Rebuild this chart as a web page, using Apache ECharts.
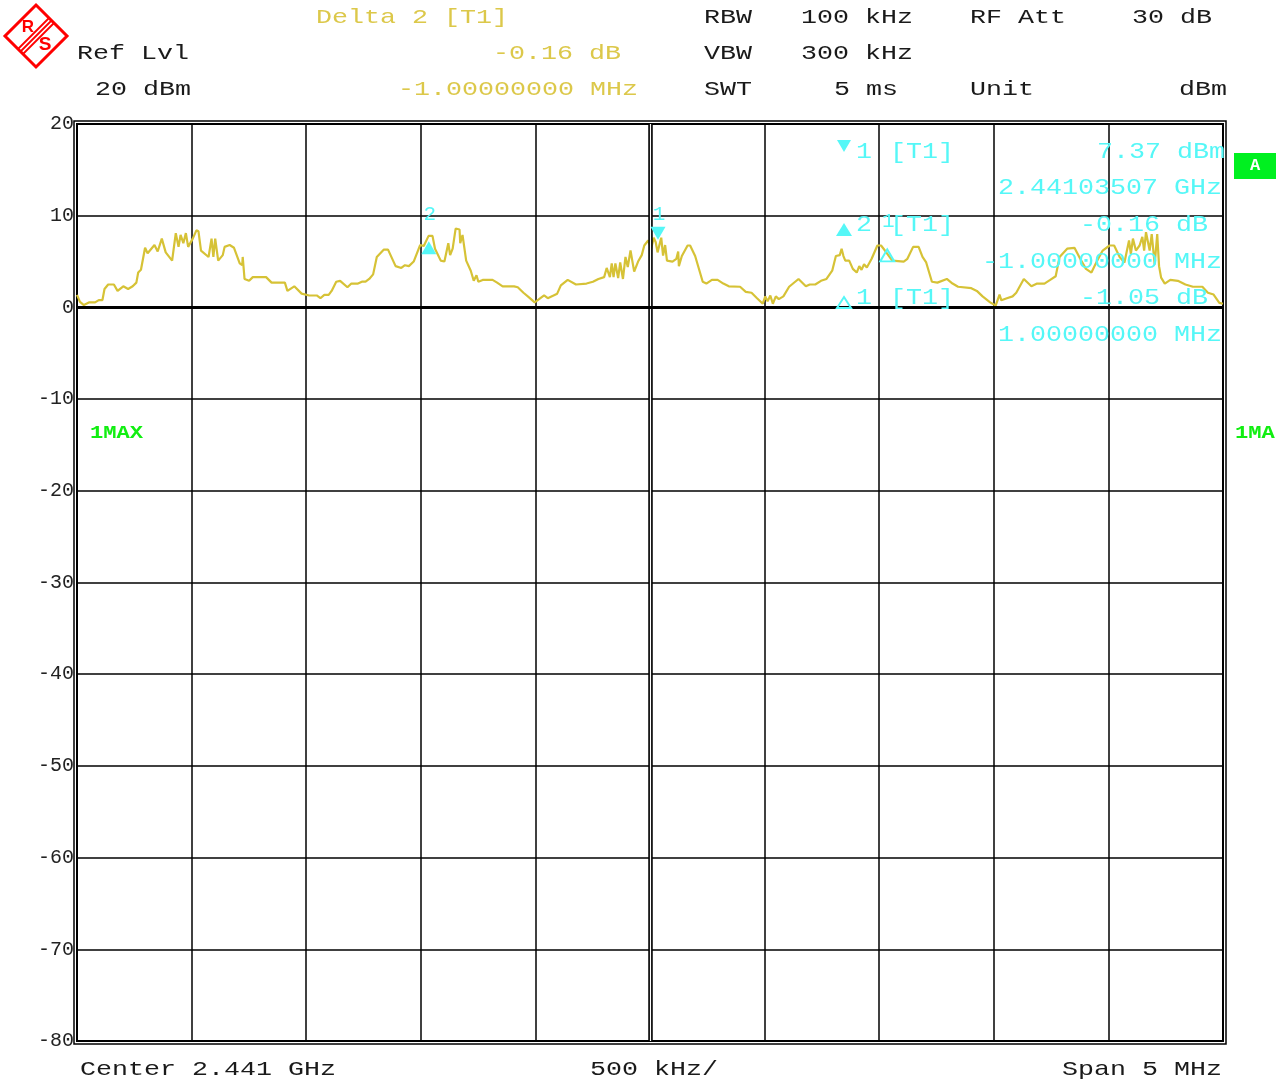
<!DOCTYPE html>
<html><head><meta charset="utf-8">
<script src="https://cdn.jsdelivr.net/npm/echarts@6/dist/echarts.min.js"></script>
<style>html,body{margin:0;padding:0;background:#fff}#c{width:1282px;height:1080px}</style>
</head><body><div id="c"></div><script>
// Frequency offset from center 2.441 GHz, in MHz
const freqMHz = [
 -2.5, -2.487, -2.47, -2.446, -2.421, -2.405, -2.389, -2.38, -2.364, -2.339,
 -2.323, -2.298, -2.277, -2.257, -2.241, -2.233, -2.221, -2.203, -2.192, -2.162,
 -2.148, -2.13, -2.113, -2.085, -2.069, -2.057, -2.048, -2.036, -2.025, -2.015,
 -1.995, -1.979, -1.97, -1.959, -1.926, -1.913, -1.905, -1.897, -1.884, -1.864,
 -1.856, -1.834, -1.815, -1.79, -1.779, -1.777, -1.769, -1.749, -1.733, -1.675,
 -1.651, -1.593, -1.582, -1.552, -1.52, -1.487, -1.454, -1.438, -1.421, -1.402,
 -1.389, -1.369, -1.352, -1.32, -1.303, -1.274, -1.257, -1.241, -1.225, -1.208,
 -1.192, -1.162, -1.143, -1.11, -1.085, -1.069, -1.052, -1.031, -1.003, -0.987,
 -0.966, -0.949, -0.938, -0.913, -0.897, -0.88, -0.872, -0.861, -0.848, -0.831,
 -0.828, -0.818, -0.802, -0.782, -0.769, -0.757, -0.749, -0.73, -0.687, -0.667,
 -0.643, -0.593, -0.577, -0.552, -0.528, -0.503, -0.487, -0.462, -0.446, -0.421,
 -0.405, -0.389, -0.359, -0.323, -0.277, -0.249, -0.225, -0.2, -0.189, -0.175,
 -0.167, -0.159, -0.151, -0.139, -0.13, -0.118, -0.107, -0.097, -0.085, -0.069,
 -0.052, -0.036, -0.025, -0.008, 0.005, 0.016, 0.025, 0.033, 0.041, 0.049,
 0.057, 0.066, 0.074, 0.098, 0.115, 0.123, 0.126, 0.139, 0.164, 0.175,
 0.197, 0.23, 0.246, 0.27, 0.295, 0.32, 0.344, 0.393, 0.418, 0.443,
 0.467, 0.492, 0.503, 0.513, 0.525, 0.536, 0.549, 0.562, 0.582, 0.607,
 0.648, 0.68, 0.697, 0.721, 0.746, 0.77, 0.795, 0.811, 0.828, 0.836,
 0.844, 0.852, 0.869, 0.885, 0.902, 0.913, 0.923, 0.934, 0.946, 0.967,
 0.992, 1.008, 1.025, 1.057, 1.107, 1.123, 1.148, 1.172, 1.189, 1.205,
 1.23, 1.254, 1.295, 1.32, 1.344, 1.402, 1.426, 1.451, 1.484, 1.508,
 1.525, 1.533, 1.557, 1.582, 1.598, 1.631, 1.664, 1.689, 1.721, 1.746,
 1.77, 1.787, 1.82, 1.852, 1.877, 1.902, 1.926, 1.951, 1.975, 2.005,
 2.025, 2.049, 2.07, 2.09, 2.098, 2.107, 2.12, 2.136, 2.148, 2.156,
 2.164, 2.18, 2.189, 2.202, 2.213, 2.221, 2.23, 2.246, 2.27, 2.303,
 2.336, 2.369, 2.41, 2.434, 2.459, 2.484, 2.5
];
// Trace level, dBm (1MAX)
const levelDbm = [
 1.36, 0.6, 0.25, 0.55, 0.55, 0.8, 0.8, 2.0, 2.5, 2.5,
 1.8, 2.3, 2.0, 2.3, 2.7, 3.8, 4.1, 6.5, 5.9, 6.8,
 6.1, 7.5, 6.0, 5.1, 8.1, 6.6, 7.9, 7.0, 8.1, 6.6,
 7.5, 8.4, 8.3, 6.2, 5.5, 7.5, 5.5, 7.5, 5.1, 5.7,
 6.6, 6.8, 6.5, 4.8, 4.6, 5.5, 3.1, 2.9, 3.3, 3.3,
 2.7, 2.7, 1.8, 2.3, 1.5, 1.3, 1.3, 1.0, 1.36, 1.36,
 1.8, 2.8, 2.9, 2.2, 2.6, 2.6, 2.8, 2.8, 3.1, 3.6,
 5.5, 6.3, 6.3, 4.5, 4.3, 4.6, 4.5, 5.0, 6.8, 6.7,
 7.8, 7.8, 6.4, 5.1, 5.0, 7.0, 5.7, 6.4, 8.6, 8.5,
 7.0, 7.9, 5.1, 4.0, 2.9, 3.5, 2.8, 3.0, 3.0, 2.7,
 2.3, 2.3, 2.2, 1.6, 1.1, 0.55, 0.84, 1.3, 1.0, 1.3,
 1.5, 2.4, 3.0, 2.5, 2.6, 2.8, 3.1, 3.3, 4.3, 3.3,
 4.8, 3.3, 4.8, 3.2, 4.9, 3.1, 5.5, 4.4, 6.2, 3.9,
 5.0, 5.7, 6.75, 7.3, 6.4, 7.6, 7.1, 6.0, 5.8, 7.6,
 5.65, 6.8, 5.1, 5.0, 5.3, 6.1, 4.5, 5.6, 6.75, 6.75,
 5.6, 2.8, 2.6, 3.0, 3.0, 2.6, 2.3, 2.25, 1.7, 1.6,
 1.0, 0.4, 1.2, 0.66, 1.3, 0.4, 1.2, 0.9, 1.2, 2.25,
 3.1, 2.3, 2.5, 2.5, 2.9, 3.1, 4.0, 5.6, 5.7, 6.4,
 5.6, 5.1, 5.1, 4.2, 3.8, 4.5, 4.1, 4.7, 4.35, 5.3,
 6.75, 6.75, 6.2, 5.1, 5.0, 5.3, 6.6, 6.6, 5.5, 4.9,
 2.8, 2.7, 3.1, 2.6, 2.25, 2.1, 1.8, 1.2, 0.55, 0.2,
 1.4, 0.77, 1.0, 1.2, 1.6, 3.1, 2.3, 2.6, 2.6, 3.0,
 3.4, 5.5, 6.4, 6.5, 5.3, 4.2, 3.8, 5.1, 6.2, 6.75,
 6.75, 5.5, 4.9, 7.3, 5.8, 7.5, 6.2, 6.75, 7.7, 6.2,
 8.2, 6.2, 8.0, 4.7, 8.0, 4.5, 3.25, 2.6, 3.0, 2.9,
 2.5, 2.25, 2.25, 1.6, 1.4, 0.5, 0.4
];
// Markers: 1 (T1), delta 2, delta 1
const markerNames = ['1', '2', '1'];
const markerFreq = [0.035, -0.965, 1.035];
const markerLevel = [7.37, 7.21, 6.32];
const yTicks = [-80, -70, -60, -50, -40, -30, -20, -10, 0, 10, 20];

const CYAN = '#55f7f7', YEL = '#dcc84a', TRACE = '#d6c236', INK = '#1a1a1a', GREEN = '#11ee11', RED = '#ff0000';
const MONO = '"Liberation Mono","Courier New",monospace';

const traceData = freqMHz.map((f, i) => [f, levelDbm[i]]);

function T(x, y, text, fill, o) {
  o = o || {};
  const size = o.size || 21;
  const sx = o.sx || (16 / (size * 0.6));
  return {
    type: 'text', x: x, y: y, scaleX: sx, z: 50, silent: true,
    style: {
      text: text, fill: fill,
      font: (o.bold ? 'bold ' : '') + size + 'px ' + MONO,
      textAlign: o.align || 'left', align: o.align || 'left',
      textVerticalAlign: 'middle', verticalAlign: 'middle'
    }
  };
}

const GL = 77, GT = 124, GR = 1223, GB = 1041;

const graphics = [
  // R&S logo
  { type: 'polygon', shape: { points: [[36,5],[67,36],[36,67],[5,36]] }, style: { fill: 'none', stroke: RED, lineWidth: 3 }, z: 50 },
  { type: 'line', shape: { x1: 49, y1: 18, x2: 18, y2: 49 }, style: { stroke: RED, lineWidth: 1.8 }, z: 50 },
  { type: 'line', shape: { x1: 51.5, y1: 20.5, x2: 20.5, y2: 51.5 }, style: { stroke: RED, lineWidth: 1.8 }, z: 50 },
  { type: 'line', shape: { x1: 54, y1: 23, x2: 23, y2: 54 }, style: { stroke: RED, lineWidth: 1.8 }, z: 50 },
  { type: 'text', x: 28, y: 27, z: 50, style: { text: 'R', fill: RED, font: 'bold 17px "Liberation Sans",sans-serif', textAlign: 'center', align: 'center', textVerticalAlign: 'middle', verticalAlign: 'middle' } },
  { type: 'text', x: 45, y: 45, z: 50, style: { text: 'S', fill: RED, font: 'bold 19px "Liberation Sans",sans-serif', textAlign: 'center', align: 'center', textVerticalAlign: 'middle', verticalAlign: 'middle' } },
  // header
  T(316, 17, 'Delta 2 [T1]', YEL),
  T(621, 53, '-0.16 dB', YEL, { align: 'right' }),
  T(398, 89, '-1.00000000 MHz', YEL),
  T(77, 53, 'Ref Lvl', INK),
  T(95, 89, '20 dBm', INK),
  T(704, 17, 'RBW', INK), T(801, 17, '100 kHz', INK), T(970, 17, 'RF Att', INK), T(1132, 17, '30 dB', INK),
  T(704, 53, 'VBW', INK), T(801, 53, '300 kHz', INK),
  T(704, 89, 'SWT', INK), T(834, 89, '5 ms', INK), T(970, 89, 'Unit', INK), T(1179, 89, 'dBm', INK),
  // footer
  T(80, 1069, 'Center 2.441 GHz', INK),
  T(590, 1069, '500 kHz/', INK),
  T(1222, 1069, 'Span 5 MHz', INK, { align: 'right' }),
  // outer frame
  { type: 'rect', shape: { x: GL - 3, y: GT - 3, width: GR - GL + 6, height: GB - GT + 6 }, style: { fill: 'none', stroke: '#000', lineWidth: 1.5 }, z: 40, silent: true },
  // trace labels
  T(90, 433, '1MAX', GREEN, { bold: true, size: 18, sx: 1.23 }),
  T(1235, 433, '1MA', GREEN, { bold: true, size: 18, sx: 1.23 }),
  { type: 'rect', shape: { x: 1234, y: 153, width: 42, height: 26 }, style: { fill: '#00f020' }, z: 50 },
  { type: 'text', x: 1255, y: 166, z: 51, style: { text: 'A', fill: '#fff', font: 'bold 17px ' + MONO, textAlign: 'center', align: 'center', textVerticalAlign: 'middle', verticalAlign: 'middle' } },
  // marker info block
  { type: 'polygon', shape: { points: [[837,140],[851,140],[844,152]] }, style: { fill: CYAN }, z: 50 },
  T(856, 152, '1', CYAN, { size: 22 }), T(890, 152, '[T1]', CYAN, { size: 22 }),
  T(1225, 152, markerLevel[0].toFixed(2) + ' dBm', CYAN, { size: 22, align: 'right' }),
  T(1222, 188, '2.44103507 GHz', CYAN, { size: 22, align: 'right' }),
  { type: 'polygon', shape: { points: [[844,223],[852,236],[836,236]] }, style: { fill: CYAN }, z: 50 },
  T(856, 225, '2', CYAN, { size: 22 }), T(890, 225, '[T1]', CYAN, { size: 22 }),
  T(1224, 225, '-0.16 dB ', CYAN, { size: 22, align: 'right' }),
  T(1222, 262, '-1.00000000 MHz', CYAN, { size: 22, align: 'right' }),
  { type: 'polygon', shape: { points: [[844,297],[851,308],[837,308]] }, style: { fill: 'none', stroke: CYAN, lineWidth: 2 }, z: 50 },
  T(856, 298, '1', CYAN, { size: 22 }), T(890, 298, '[T1]', CYAN, { size: 22 }),
  T(1224, 298, '-1.05 dB ', CYAN, { size: 22, align: 'right' }),
  T(1222, 335, '1.00000000 MHz', CYAN, { size: 22, align: 'right' })
];

const markLabel = (txt, dy) => ({ show: true, formatter: txt, position: 'inside', offset: [1, dy], color: CYAN, fontFamily: MONO, fontSize: 21 });

const option = {
  animation: false,
  backgroundColor: '#fff',
  grid: { left: GL, top: GT, right: 1282 - GR, bottom: 1080 - GB, show: true, borderColor: '#000', borderWidth: 2, backgroundColor: 'transparent' },
  xAxis: {
    type: 'value', min: -2.5, max: 2.5, interval: 0.5,
    axisLine: { show: false }, axisTick: { show: false }, axisLabel: { show: false },
    splitLine: { show: true, lineStyle: { color: '#000', width: 1.5 } }
  },
  yAxis: {
    type: 'value', min: yTicks[0], max: yTicks[yTicks.length - 1], interval: 10,
    axisLine: { show: false }, axisTick: { show: false },
    axisLabel: { color: '#222', fontFamily: MONO, fontSize: 20, margin: 3 },
    splitLine: { show: true, lineStyle: { color: '#000', width: 1.5 } }
  },
  series: [
    {
      type: 'line', data: [], z: 1, silent: true,
      markLine: {
        silent: true, symbol: ['none', 'none'], label: { show: false }, animation: false,
        data: [
          { xAxis: 0, lineStyle: { color: '#000', width: 4.5, type: 'solid' } },
          { xAxis: 0, lineStyle: { color: '#fff', width: 1.2, type: 'solid' } },
          { yAxis: 0, lineStyle: { color: '#000', width: 3, type: 'solid' } }
        ]
      }
    },
    {
      type: 'line', data: traceData, z: 3, silent: true,
      showSymbol: false, symbol: 'none',
      lineStyle: { color: TRACE, width: 2.2 },
      markPoint: {
        silent: true, animation: false,
        data: [
          { coord: [markerFreq[0], markerLevel[0]], symbol: 'path://M0,0L14,0L7,12Z', symbolSize: [15, 13], symbolOffset: [0, -6.5], itemStyle: { color: CYAN }, label: markLabel(markerNames[0], -19) },
          { coord: [markerFreq[1], markerLevel[1]], symbol: 'triangle', symbolSize: [15, 13], symbolOffset: [0, 6.5], itemStyle: { color: CYAN }, label: markLabel(markerNames[1], -33) },
          { coord: [markerFreq[2], markerLevel[2]], symbol: 'triangle', symbolSize: [14, 12], symbolOffset: [0, 6], itemStyle: { color: 'rgba(0,0,0,0)', borderColor: CYAN, borderWidth: 2 }, label: markLabel(markerNames[2], -34) }
        ]
      }
    }
  ],
  graphic: graphics
};

const chart = echarts.init(document.getElementById('c'), null, { renderer: 'canvas' });
chart.setOption(option);
</script></body></html>
